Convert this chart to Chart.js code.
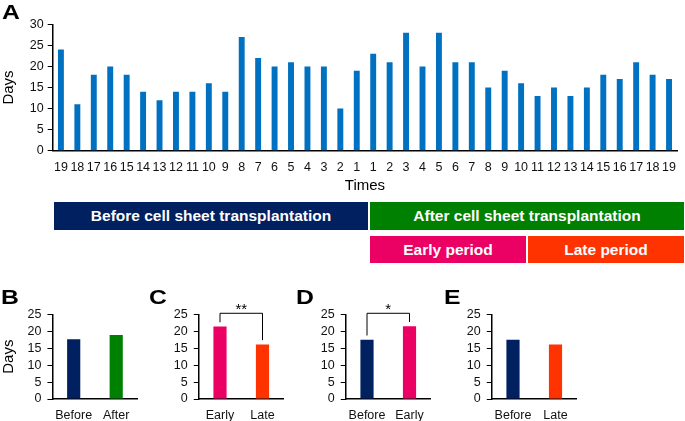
<!DOCTYPE html>
<html><head><meta charset="utf-8">
<script src="https://cdn.jsdelivr.net/npm/chart.js@4.4.0/dist/chart.umd.min.js"></script>
<style>
html,body{margin:0;padding:0;background:#fff;}
body{width:685px;height:421px;position:relative;overflow:hidden;font-family:"Liberation Sans",Arial,sans-serif;}
canvas{position:absolute;}
.lbl{position:absolute;font-weight:bold;font-size:21px;line-height:21px;transform-origin:left top;transform:scaleX(1.18);color:#000;}
.ban{position:absolute;color:#fff;font-weight:bold;font-size:15.5px;display:flex;align-items:center;justify-content:center;white-space:nowrap;}
</style></head><body>
<canvas id="cA" width="685" height="196" style="left:0;top:0"></canvas>
<canvas id="cB" width="142" height="141" style="left:0;top:280px"></canvas>
<canvas id="cC" width="124" height="141" style="left:165px;top:280px"></canvas>
<canvas id="cD" width="124" height="141" style="left:311px;top:280px"></canvas>
<canvas id="cE" width="124" height="141" style="left:458px;top:280px"></canvas>
<div class="lbl" style="left:2px;top:1px">A</div>
<div class="lbl" style="left:1px;top:286px">B</div>
<div class="lbl" style="left:149px;top:286px">C</div>
<div class="lbl" style="left:296px;top:286px">D</div>
<div class="lbl" style="left:444px;top:286px">E</div>
<div class="ban" style="left:54px;top:202px;width:314px;height:28px;background:#002060">Before cell sheet transplantation</div>
<div class="ban" style="left:370px;top:202px;width:314px;height:28px;background:#008000">After cell sheet transplantation</div>
<div class="ban" style="left:370px;top:236px;width:156px;height:27px;background:#EB0064">Early period</div>
<div class="ban" style="left:528px;top:236px;width:156px;height:27px;background:#FF3300">Late period</div>
<script>
// ---- data ----
const timeLabels = ['19','18','17','16','15','14','13','12','11','10','9','8','7','6','5','4','3','2','1',
                    '1','2','3','4','5','6','7','8','9','10','11','12','13','14','15','16','17','18','19'];
const daysA = [24,11,18,20,18,14,12,14,14,16,14,27,22,20,21,20,20,10,19,
               23,21,28,20,28,21,21,15,19,16,13,15,13,15,18,17,21,18,17];
const yTicksA = [0,5,10,15,20,25,30];
const yTicksSmall = [0,5,10,15,20,25];

const catsB = ['Before','After'];
const valsB = [17.6, 18.9];
const catsC = ['Early','Late'];
const valsC = [21.4, 16.1];
const catsD = ['Before','Early'];
const valsD = [17.5, 21.5];
const catsE = ['Before','Late'];
const valsE = [17.5, 16.1];
const sigC = '**';
const sigD = '*';

// ---- styling ----
const FONT = '"Liberation Sans", Arial, sans-serif';
Chart.defaults.font.family = FONT;
Chart.defaults.color = '#111';
const C_BLUE = '#0070C0', C_NAVY = '#002060', C_GREEN = '#008000', C_PINK = '#EB0064', C_ORANGE = '#FF3300';
const TICK_SIZE = 12.5;

const bracketPlugin = {
  id: 'bracket',
  afterDatasetsDraw(chart, args, opts) {
    if (!opts || !opts.label) return;
    const {ctx} = chart; const x = chart.scales.x, y = chart.scales.y;
    const vals = chart.data.datasets[0].data;
    const x0 = x.getPixelForValue(0), x1 = x.getPixelForValue(1);
    const yt = y.getPixelForValue(opts.top);
    const y0 = y.getPixelForValue(vals[0] + opts.gap), y1 = y.getPixelForValue(vals[1] + opts.gap);
    ctx.save();
    ctx.strokeStyle = '#000'; ctx.lineWidth = 1;
    ctx.beginPath(); ctx.moveTo(x0, y0); ctx.lineTo(x0, yt); ctx.lineTo(x1, yt); ctx.lineTo(x1, y1); ctx.stroke();
    ctx.fillStyle = '#000'; ctx.font = '15px ' + FONT; ctx.textAlign = 'center'; ctx.textBaseline = 'alphabetic';
    ctx.fillText(opts.label, (x0 + x1) / 2, yt + 0.5);
    ctx.restore();
  }
};

function yScale(max, ticks, width, pad, title) {
  return {
    min: 0, max: max,
    afterBuildTicks: s => { s.ticks = ticks.map(v => ({value: v})); },
    ticks: {font: {size: TICK_SIZE}, color: '#111', padding: pad, autoSkip: false},
    grid: {drawOnChartArea: false, drawTicks: true, tickLength: 5, color: '#000', lineWidth: 1},
    border: {color: '#000', width: 1.5},
    title: title ? {display: true, text: title, font: {size: 15}, color: '#000', padding: {top: 0, bottom: 0}} : {display: false},
    afterFit: s => { s.width = width; }
  };
}

function xScale(height, title) {
  return {
    grid: {display: false, drawTicks: false}, border: {color: '#000', width: 1.5},
    ticks: {font: {size: TICK_SIZE}, color: '#111', padding: 9, maxRotation: 0, autoSkip: false},
    title: title ? {display: true, text: title, font: {size: 15}, color: '#000', padding: {top: 0, bottom: 1}} : {display: false},
    afterFit: s => { s.height = height; }
  };
}

// ---- Panel A ----
new Chart(document.getElementById('cA'), {
  type: 'bar',
  data: {labels: timeLabels, datasets: [{data: daysA, backgroundColor: C_BLUE, barPercentage: 0.36, categoryPercentage: 1}]},
  options: {
    responsive: false, animation: false, devicePixelRatio: 1,
    layout: {padding: {top: 24.3, right: 1, left: 0, bottom: 0}},
    plugins: {legend: {display: false}, tooltip: {enabled: false}},
    scales: {
      x: xScale(196 - 150.7, 'Times'),
      y: yScale(30, yTicksA, 52.7, 4, 'Days')
    }
  }
});

// ---- small panels ----
function small(id, canvasLeft, canvasW, axisLeft, cats, vals, colors, title, sig) {
  const yw = axisLeft - canvasLeft;
  const padR = canvasW - yw - 85;
  new Chart(document.getElementById(id), {
    type: 'bar',
    data: {labels: cats, datasets: [{data: vals, backgroundColor: colors, barPercentage: 0.31, categoryPercentage: 1}]},
    options: {
      responsive: false, animation: false, devicePixelRatio: 1,
      layout: {padding: {top: 34.3, right: padR, left: 0, bottom: 0}},
      plugins: {legend: {display: false}, tooltip: {enabled: false},
        bracket: sig ? {label: sig, top: 25.3, gap: 1.25} : {}},
      scales: {
        x: xScale(22, null),
        y: yScale(25, yTicksSmall, yw, 6, title)
      }
    },
    plugins: [bracketPlugin]
  });
}
small('cB', 0, 142, 52.45, catsB, valsB, [C_NAVY, C_GREEN], 'Days', null);
small('cC', 165, 124, 198.75, catsC, valsC, [C_PINK, C_ORANGE], null, sigC);
small('cD', 311, 124, 345.75, catsD, valsD, [C_NAVY, C_PINK], null, sigD);
small('cE', 458, 124, 491.75, catsE, valsE, [C_NAVY, C_ORANGE], null, null);
</script>
</body></html>
